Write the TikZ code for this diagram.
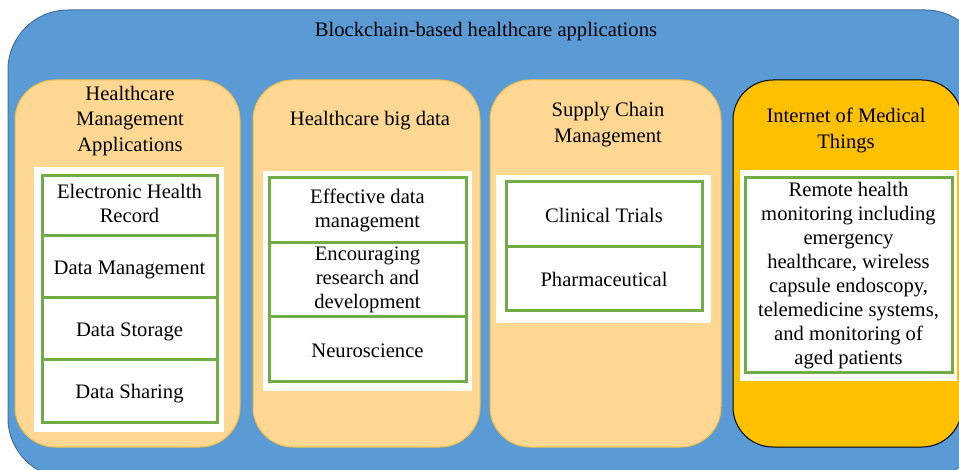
\documentclass[tikz,border=0pt]{standalone}
\usepackage{fontspec}
\setmainfont{Liberation Serif}
\usetikzlibrary{positioning}
\definecolor{chainblue}{HTML}{5B9BD5}
\definecolor{chainedge}{HTML}{41719C}
\definecolor{panelfill}{HTML}{FED893}
\definecolor{paneledge}{HTML}{F2BE45}
\definecolor{iomtfill}{HTML}{FFC000}
\definecolor{cellgreen}{HTML}{70AD47}
\newcommand\labelstrut{\rule[-5pt]{0pt}{26pt}}
\newcommand\tallstrut{\rule[-5pt]{0pt}{31pt}}
\begin{document}
\begin{tikzpicture}[x=1pt,y=-1pt,
        every node/.style={font=\fontsize{20.6}{24}\selectfont,align=center,inner sep=0pt,
            execute at begin node=\labelstrut,execute at end node=\labelstrut},
        heading/.style={font=\fontsize{20.6}{25.5}\selectfont},
        panel/.style={draw=paneledge,fill=panelfill,line width=1pt,rounded corners=40pt},
        holder/.style={fill=white},
        cell/.style={draw=cellgreen,fill=white,line width=3pt,minimum width=#1},
        lowcell/.style={cell=#1,execute at begin node=\tallstrut}]
                \useasboundingbox(0, 0) rectangle (959, 470);
                \clip(0, 0) rectangle (959, 470);
                \node[draw=chainedge,fill=chainblue,line width=1pt,rounded corners=60pt,minimum width=977pt,minimum height=468pt](Chain)at(496.5, 244){};
                \node[](ChainTitle)at(486, 29){Blockchain-based healthcare applications};
                \node[panel,minimum width=225pt,minimum height=367pt](HMA)at(127.5, 263.5){};
                \node[panel,minimum width=227pt,minimum height=367pt](HBD)at(366.5, 263.5){};
                \node[panel,minimum width=231pt,minimum height=367pt](SCM)at(605.5, 263.5){};
                \node[panel,draw=black,fill=iomtfill,minimum width=229pt,minimum height=367pt](IoMT)at(847.5, 263.5){};
                \node[heading](HMAtitle)at(130, 121){Healthcare\\Management\\Applications};
                \node[heading](HBDtitle)at(370, 118){Healthcare big data};
                \node[heading](SCMtitle)at(608, 125){Supply Chain\\Management};
                \node[heading](IoMTtitle)at(846, 131){Internet of Medical\\Things};
                \node[holder,minimum width=190pt,minimum height=265pt](HMAbox)at(129, 299.5){};
                \node[holder,minimum width=209pt,minimum height=220pt](HBDbox)at(367.5, 281){};
                \node[holder,minimum width=215pt,minimum height=148pt](SCMbox)at(603.5, 249){};
                \node[holder,minimum width=217pt,minimum height=211pt](IoMTbox)at(848.5, 275.5){};
                \node[lowcell=175pt,minimum height=60pt](EHR)at(129.5, 206){Electronic Health\\Record};
                \node[cell=175pt,minimum height=62pt](DM)at(129.5, 267){Data Management};
                \node[cell=175pt,minimum height=62pt](DSt)at(129.5, 329){Data Storage};
                \node[cell=175pt,minimum height=62pt](DSh)at(129.5, 391){Data Sharing};
                \node[lowcell=197pt,minimum height=65pt](EDM)at(367.5, 210.5){Effective data\\management};
                \node[lowcell=197pt,minimum height=74pt](ERD)at(367.5, 280){Encouraging\\research and\\development};
                \node[cell=197pt,minimum height=65pt](NS)at(367.5, 349.5){Neuroscience};
                \node[cell=196pt,minimum height=65pt](CT)at(604, 214.5){Clinical Trials};
                \node[cell=196pt,minimum height=64pt](PH)at(604, 279){Pharmaceutical};
                \node[cell=207pt,minimum height=195pt](RHM)at(848.5, 275.5){Remote health\\monitoring including\\emergency\\healthcare, wireless\\capsule endoscopy,\\telemedicine systems,\\and monitoring of\\aged patients};
            \end{tikzpicture}
\end{document}
